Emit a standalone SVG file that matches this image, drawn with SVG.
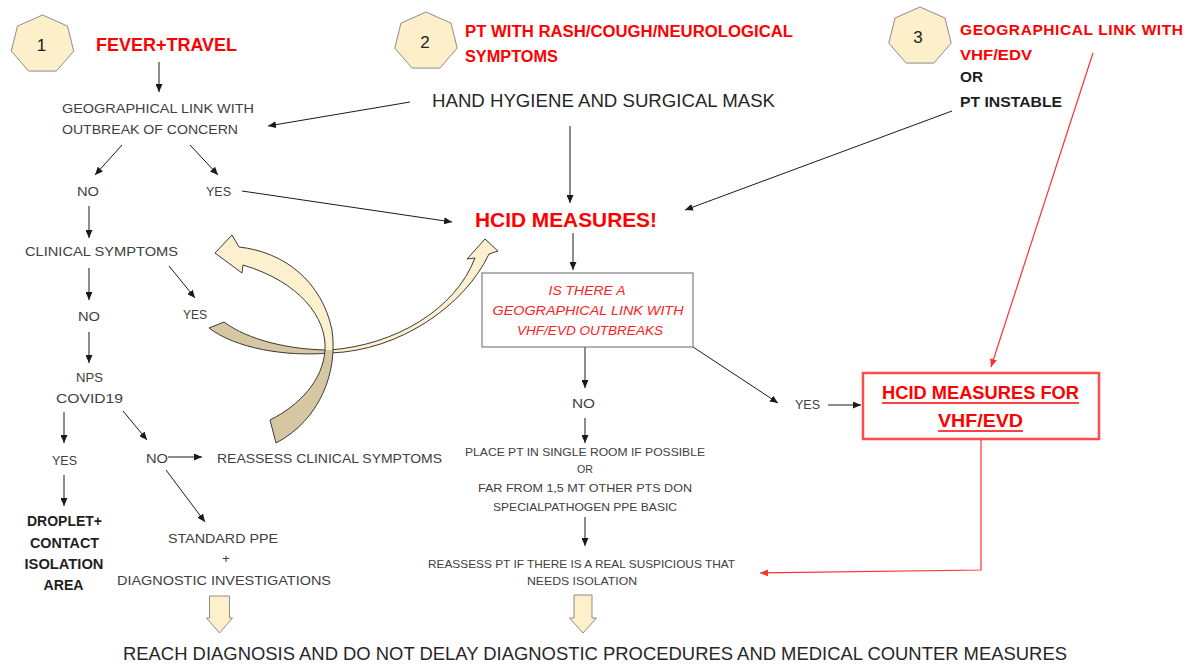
<svg xmlns="http://www.w3.org/2000/svg" width="1196" height="665" viewBox="0 0 1196 665">
<style>
text{font-family:"Liberation Sans",Arial,sans-serif;}
.g{font-size:13.5px;fill:#404040;}
.s{font-size:10.5px;fill:#404040;}
.d{font-size:18px;fill:#262626;}
.rb{font-weight:bold;fill:#ff0000;}
.kb{font-weight:bold;fill:#1f1f1f;}
.it{font-style:italic;font-size:13.5px;fill:#ff2020;}
.num{font-size:17px;fill:#222;}
.c line,.c polyline{stroke:#1a1a1a;stroke-width:1;fill:none;marker-end:url(#ah);}
.c .red{stroke:#ff3030;stroke-width:1.2;marker-end:url(#ahr);}
.hep{fill:#fdefc9;stroke:#8c8c8c;stroke-width:1;}
.blk{fill:#fdf0cb;stroke:#8c8c8c;stroke-width:1;}
.curve{stroke:#3a3a3a;stroke-width:1;}
</style>
<defs>
<marker id="ah" markerUnits="userSpaceOnUse" markerWidth="8" markerHeight="7" refX="8" refY="3.5" orient="auto"><path d="M0,0 L8,3.5 L0,7 z" fill="#1a1a1a"/></marker>
<marker id="ahr" markerUnits="userSpaceOnUse" markerWidth="8" markerHeight="7" refX="8" refY="3.5" orient="auto"><path d="M0,0 L8,3.5 L0,7 z" fill="#ff3030"/></marker>
<polygon id="hept" points="0,-29.5 25.02,-18.39 31.2,6.56 13.88,26.58 -13.88,26.58 -31.2,6.56 -25.02,-18.39"/>
<linearGradient id="g1" gradientUnits="userSpaceOnUse" x1="0" y1="240" x2="0" y2="445">
<stop offset="0" stop-color="#fcf0cf"/><stop offset="0.537" stop-color="#fcf0cf"/><stop offset="0.537" stop-color="#d4c7a2"/><stop offset="1" stop-color="#d4c7a2"/>
</linearGradient>
<linearGradient id="g2" gradientUnits="userSpaceOnUse" x1="200" y1="0" x2="500" y2="0">
<stop offset="0" stop-color="#d4c7a2"/><stop offset="0.433" stop-color="#d4c7a2"/><stop offset="0.433" stop-color="#fcf0cf"/><stop offset="1" stop-color="#fcf0cf"/>
</linearGradient>
</defs>
<rect width="1196" height="665" fill="#ffffff"/>

<g id="connectors" class="c">
<line x1="159" y1="62" x2="159" y2="92"/>
<line x1="410" y1="102" x2="268" y2="126"/>
<line x1="122" y1="145" x2="95" y2="175"/>
<line x1="190" y1="145" x2="218" y2="175"/>
<line x1="242" y1="191" x2="452" y2="222"/>
<line x1="89" y1="206" x2="89" y2="238"/>
<line x1="89" y1="268" x2="89" y2="300"/>
<line x1="169" y1="266" x2="195" y2="298"/>
<line x1="89" y1="332" x2="89" y2="363"/>
<line x1="64" y1="412" x2="64" y2="443"/>
<line x1="123" y1="411" x2="147" y2="440"/>
<line x1="168" y1="457" x2="202" y2="457"/>
<line x1="64" y1="475" x2="64" y2="506"/>
<line x1="166" y1="470" x2="205" y2="522"/>
<line x1="570" y1="126" x2="570" y2="203"/>
<line x1="952" y1="111" x2="685" y2="210"/>
<line x1="573" y1="233" x2="573" y2="270"/>
<line x1="585" y1="347" x2="585" y2="388"/>
<line x1="585" y1="418" x2="585" y2="443"/>
<line x1="585" y1="517" x2="585" y2="546"/>
<line x1="693" y1="347" x2="778" y2="403"/>
<line x1="828" y1="405" x2="861" y2="405"/>
<line class="red" x1="1093" y1="53" x2="991" y2="367"/>
<polyline class="red" points="981,439 981,570 760,573"/>
</g>

<g id="curved-arrows">
<path class="curve" fill="url(#g2)" d="M224 322 C248 340 290 350 330 350 C395 345 455 310 475 258 L467 259 L485 239 L498 251 L489 254 C465 305 400 351 330 353 C285 357 235 348 209 328 Z"/>
<path class="curve" fill="url(#g1)" d="M270 420 C300 405 323 380 325 350 C327 318 300 282 243 265 L242 273 L215 253 L232 235 L239 247 C285 252 322 282 332 330 C338 372 320 420 276 443 Z"/>
</g>

<g id="n1"><use href="#hept" class="hep" x="42.5" y="44.5"/><text class="num" x="41.5" y="51" text-anchor="middle">1</text></g>
<g id="n2"><use href="#hept" class="hep" x="426" y="41.5"/><text class="num" x="425" y="48" text-anchor="middle">2</text></g>
<g id="n3"><use href="#hept" class="hep" x="920" y="36.5"/><text class="num" x="918" y="43" text-anchor="middle">3</text></g>

<g id="fever"><text class="rb" font-size="18" x="96" y="51" textLength="141" lengthAdjust="spacingAndGlyphs">FEVER+TRAVEL</text></g>
<g id="geo-link">
<text class="g" x="62" y="113" textLength="192" lengthAdjust="spacingAndGlyphs">GEOGRAPHICAL LINK WITH</text>
<text class="g" x="62" y="134" textLength="176" lengthAdjust="spacingAndGlyphs">OUTBREAK OF CONCERN</text>
</g>
<g id="no1"><text class="g" x="77" y="196" textLength="22" lengthAdjust="spacingAndGlyphs">NO</text></g>
<g id="yes1"><text class="g" x="206" y="196" textLength="25" lengthAdjust="spacingAndGlyphs">YES</text></g>
<g id="clinical"><text class="g" x="25" y="256" textLength="153" lengthAdjust="spacingAndGlyphs">CLINICAL SYMPTOMS</text></g>
<g id="no2"><text class="g" x="78" y="321" textLength="22" lengthAdjust="spacingAndGlyphs">NO</text></g>
<g id="yes2"><text class="g" x="183" y="319" textLength="24" lengthAdjust="spacingAndGlyphs">YES</text></g>
<g id="nps">
<text class="g" x="89.5" y="382" text-anchor="middle" textLength="27" lengthAdjust="spacingAndGlyphs">NPS</text>
<text class="g" x="89.5" y="403" text-anchor="middle" textLength="67" lengthAdjust="spacingAndGlyphs">COVID19</text>
</g>
<g id="yes3"><text class="g" x="52" y="465" textLength="25" lengthAdjust="spacingAndGlyphs">YES</text></g>
<g id="no3"><text class="g" x="146" y="463" textLength="22" lengthAdjust="spacingAndGlyphs">NO</text></g>
<g id="reassess-clin"><text class="g" x="217" y="463" textLength="225" lengthAdjust="spacingAndGlyphs">REASSESS CLINICAL SYMPTOMS</text></g>
<g id="droplet">
<text class="kb" font-size="14" x="64.5" y="526" text-anchor="middle" textLength="75" lengthAdjust="spacingAndGlyphs">DROPLET+</text>
<text class="kb" font-size="14" x="64.5" y="548" text-anchor="middle" textLength="69" lengthAdjust="spacingAndGlyphs">CONTACT</text>
<text class="kb" font-size="14" x="64" y="569" text-anchor="middle" textLength="79" lengthAdjust="spacingAndGlyphs">ISOLATION</text>
<text class="kb" font-size="14" x="63.5" y="590" text-anchor="middle" textLength="40" lengthAdjust="spacingAndGlyphs">AREA</text>
</g>
<g id="standard">
<text class="g" x="223" y="543" text-anchor="middle" textLength="110" lengthAdjust="spacingAndGlyphs">STANDARD PPE</text>
<text class="g" x="226" y="563" text-anchor="middle">+</text>
<text class="g" x="224" y="585" text-anchor="middle" textLength="214" lengthAdjust="spacingAndGlyphs">DIAGNOSTIC INVESTIGATIONS</text>
</g>
<g id="down-arrow-1"><path class="blk" d="M209.5 596 L229.5 596 L229.5 618 L232.5 618 L219.5 633 L206.5 618 L209.5 618 Z"/></g>

<g id="pt-rash">
<text class="rb" font-size="16" x="465" y="37" textLength="328" lengthAdjust="spacingAndGlyphs">PT WITH RASH/COUGH/NEUROLOGICAL</text>
<text class="rb" font-size="16" x="465" y="62" textLength="93" lengthAdjust="spacingAndGlyphs">SYMPTOMS</text>
</g>
<g id="hand-hygiene"><text class="d" x="432" y="107" textLength="343" lengthAdjust="spacingAndGlyphs">HAND HYGIENE AND SURGICAL MASK</text></g>
<g id="hcid"><text class="rb" font-size="21" x="475" y="227" textLength="182" lengthAdjust="spacingAndGlyphs">HCID MEASURES!</text></g>
<g id="question">
<rect x="482" y="273" width="211" height="74" fill="#ffffff" stroke="#7f7f7f" stroke-width="1.2"/>
<text class="it" x="587" y="295" text-anchor="middle" textLength="77" lengthAdjust="spacingAndGlyphs">IS THERE A</text>
<text class="it" x="588" y="315" text-anchor="middle" textLength="191" lengthAdjust="spacingAndGlyphs">GEOGRAPHICAL LINK WITH</text>
<text class="it" x="590" y="335" text-anchor="middle" textLength="146" lengthAdjust="spacingAndGlyphs">VHF/EVD OUTBREAKS</text>
</g>
<g id="no4"><text class="g" x="572" y="408" textLength="23" lengthAdjust="spacingAndGlyphs">NO</text></g>
<g id="place">
<text class="s" x="585" y="456" text-anchor="middle" textLength="240" lengthAdjust="spacingAndGlyphs">PLACE PT IN SINGLE ROOM IF POSSIBLE</text>
<text class="s" x="585" y="473" text-anchor="middle" textLength="16" lengthAdjust="spacingAndGlyphs">OR</text>
<text class="s" x="585" y="492" text-anchor="middle" textLength="214" lengthAdjust="spacingAndGlyphs">FAR FROM 1,5 MT OTHER PTS DON</text>
<text class="s" x="585" y="511" text-anchor="middle" textLength="184" lengthAdjust="spacingAndGlyphs">SPECIALPATHOGEN PPE BASIC</text>
</g>
<g id="reassess-pt">
<text class="s" x="581.5" y="568" text-anchor="middle" textLength="307" lengthAdjust="spacingAndGlyphs">REASSESS PT IF THERE IS A REAL SUSPICIOUS THAT</text>
<text class="s" x="582" y="585" text-anchor="middle" textLength="110" lengthAdjust="spacingAndGlyphs">NEEDS ISOLATION</text>
</g>
<g id="down-arrow-2"><path class="blk" d="M574 595 L592 595 L592 618 L596.5 618 L583 633 L569.5 618 L574 618 Z"/></g>
<g id="yes4"><text class="g" x="795" y="409" textLength="25" lengthAdjust="spacingAndGlyphs">YES</text></g>
<g id="hcid-vhf">
<rect x="863" y="373" width="236" height="66" fill="#ffffff" stroke="#ff4d4d" stroke-width="2.5"/>
<text class="rb" font-size="19" x="882" y="399" textLength="197" lengthAdjust="spacingAndGlyphs">HCID MEASURES FOR</text>
<text class="rb" font-size="19" x="938" y="427" textLength="85" lengthAdjust="spacingAndGlyphs">VHF/EVD</text>
<line x1="882" y1="403" x2="1079" y2="403" stroke="#ff0000" stroke-width="1.5"/>
<line x1="938" y1="431" x2="1023" y2="431" stroke="#ff0000" stroke-width="1.5"/>
</g>
<g id="geo-vhf">
<text class="rb" font-size="15.5" x="960" y="35" textLength="223" lengthAdjust="spacing">GEOGRAPHICAL LINK WITH</text>
<text class="rb" font-size="15.5" x="960" y="60" textLength="72" lengthAdjust="spacingAndGlyphs">VHF/EDV</text>
<text class="kb" font-size="15.5" x="960" y="82" textLength="23" lengthAdjust="spacingAndGlyphs">OR</text>
<text class="kb" font-size="15.5" x="960" y="107" textLength="102" lengthAdjust="spacingAndGlyphs">PT INSTABLE</text>
</g>
<g id="reach"><text class="d" font-size="19" x="123" y="660" textLength="944" lengthAdjust="spacingAndGlyphs">REACH DIAGNOSIS AND DO NOT DELAY DIAGNOSTIC PROCEDURES AND MEDICAL COUNTER MEASURES</text></g>
</svg>
